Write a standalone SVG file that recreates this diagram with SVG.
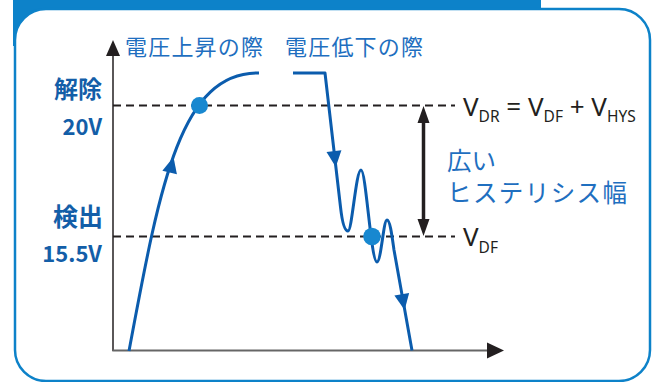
<svg xmlns="http://www.w3.org/2000/svg" width="653" height="382" viewBox="0 0 653 382">
<style>
.jp{font-family:"Noto Sans CJK JP","Noto Sans",sans-serif;fill:#1f6fc0}
.bl{font-family:"Noto Sans CJK JP","Noto Sans",sans-serif;font-weight:bold;fill:#135ea8;text-anchor:end}
.lat{font-family:"Noto Sans","Liberation Sans",sans-serif;fill:#231f20;font-size:26px}
.sub{font-size:15.5px}
.dash{stroke:#231f20;stroke-width:2;stroke-dasharray:8 5;fill:none}
.curve{stroke:#0b5cad;stroke-width:3;fill:none;stroke-linejoin:round}
.dot{fill:#1888d0}
.ah{fill:#0b5cad}
.bk{fill:#231f20}
</style>
<defs>
<path id="ahead" d="M0,0 L-16,-7.5 L-16,7.5 Z"/>
</defs>
<g id="frame">
<rect x="13" y="0" width="528" height="10" fill="#0d82c9"/>
<rect x="13" y="0" width="40" height="46" fill="#0d82c9"/>
<rect x="15" y="9" width="635" height="372" rx="31" ry="31" fill="#fff" stroke="#0d82c9" stroke-width="2.5"/>
</g>
<g id="axes">
<line x1="113" y1="55" x2="113" y2="351" stroke="#231f20" stroke-width="1.5"/>
<polygon class="bk" points="113,40 106,56 120,56"/>
<line x1="112.3" y1="350.5" x2="490" y2="350.5" stroke="#666" stroke-width="1.8"/>
<polygon class="bk" points="504,350.5 487,342.5 487,358.5"/>
</g>
<g id="levels">
<line class="dash" x1="113" y1="105.5" x2="455" y2="105.5"/>
<line class="dash" x1="113" y1="236.5" x2="455" y2="236.5"/>
</g>
<g id="hysteresis-arrow">
<line x1="423.5" y1="121" x2="423.5" y2="221" stroke="#231f20" stroke-width="3.5"/>
<polygon class="bk" points="423.5,106 417.5,123 429.5,123"/>
<polygon class="bk" points="423.5,236 417.5,219 429.5,219"/>
</g>
<g id="connectors">
<path id="rise" class="curve" d="M129,351 C160,185 180,72 259,73"/>
<path id="fall" class="curve" d="M293,73 H325 L340.5,207 C342.5,225 345,231 348,231 C352,231 356,170 361,170 C366,170 371,262 377,262 C381,262 383.5,220 387,220 C390,220 392,236 394,250 L412,350.5"/>
<use href="#ahead" class="ah" transform="translate(173.5,157) rotate(-76)"/>
<use href="#ahead" class="ah" transform="translate(335.8,167) rotate(83.4)"/>
<use href="#ahead" class="ah" transform="translate(404.6,310) rotate(79.8)"/>
</g>
<g id="points">
<circle id="release-point" class="dot" cx="199.5" cy="105.5" r="8.5"/>
<circle id="detect-point" class="dot" cx="372" cy="236.5" r="8.8"/>
</g>
<g id="labels">
<text class="jp" x="125" y="55" font-size="22" textLength="138" lengthAdjust="spacing">電圧上昇の際</text>
<text class="jp" x="285" y="55" font-size="22" textLength="138" lengthAdjust="spacing">電圧低下の際</text>
<text class="bl" x="102" y="98" font-size="24">解除</text>
<text class="bl" x="102" y="135" font-size="22">20V</text>
<text class="bl" x="103" y="226" font-size="25">検出</text>
<text class="bl" x="102" y="261.5" font-size="22">15.5V</text>
<text class="jp" x="447" y="170" font-size="24.5">広い</text>
<text class="jp" x="447" y="202" font-size="24.5" textLength="180" lengthAdjust="spacing">ヒステリシス幅</text>
<text class="lat" x="463" y="115.5">V<tspan class="sub" dy="6.7">DR</tspan><tspan dy="-6.7"> = V</tspan><tspan class="sub" dy="6.7">DF</tspan><tspan dy="-6.7"> + V</tspan><tspan class="sub" dy="6.7">HYS</tspan></text>
<text class="lat" x="463" y="246">V<tspan class="sub" dy="6.7">DF</tspan></text>
</g>
</svg>
